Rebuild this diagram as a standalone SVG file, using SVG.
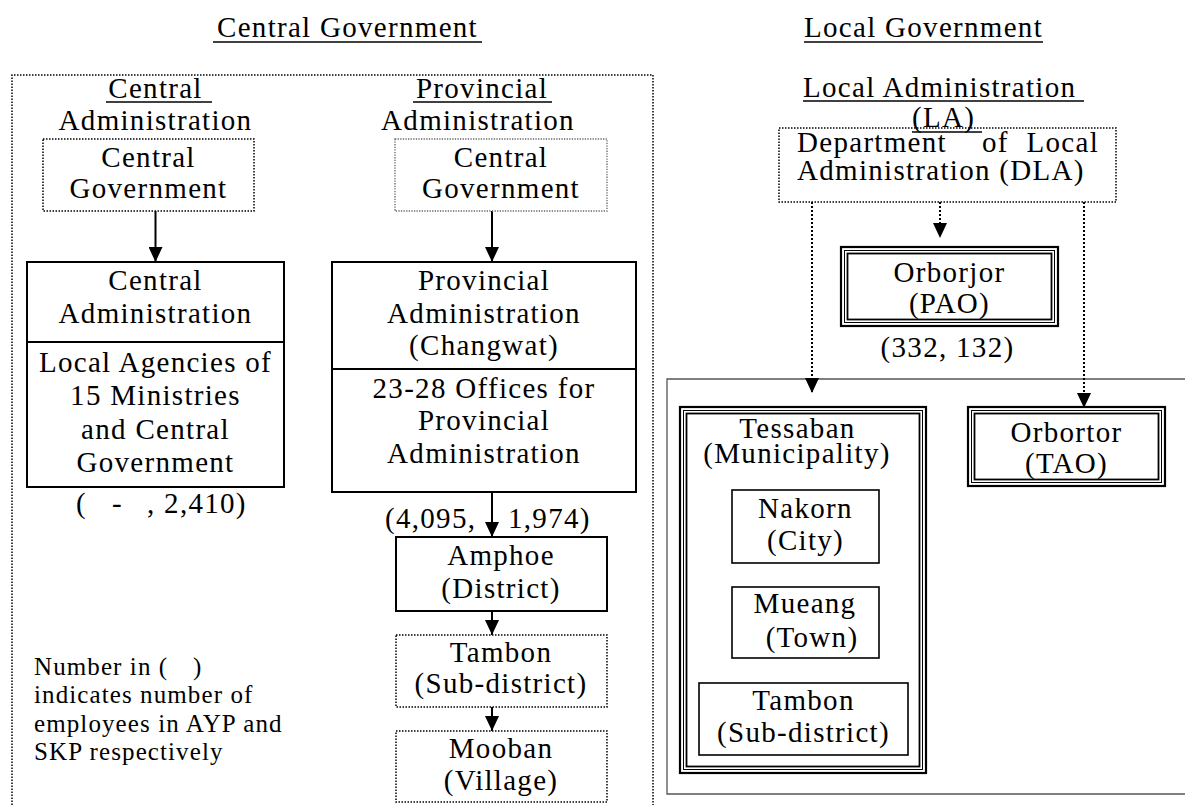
<svg xmlns="http://www.w3.org/2000/svg" width="1185" height="805" viewBox="0 0 1185 805" font-family="'Liberation Serif', 'Times New Roman', serif" font-size="29" letter-spacing="1.3">
  <style>
    text { fill: #000; }
    .c { text-anchor: middle; }
    .e { text-anchor: end; }
    .sm { font-size: 25px; letter-spacing: 1.1px; }
    .ul { stroke: #000; stroke-width: 1.6; }
    .box { fill: #fff; stroke: #000; stroke-width: 2; }
    .dot { fill: #fff; stroke: #000; stroke-width: 1.5; stroke-dasharray: 1.5 1.5; }
    .dotg { fill: #fff; stroke: #666; stroke-width: 1.3; stroke-dasharray: 1.3 1.3; }
    .frame { fill: none; stroke: #000; stroke-width: 1.5; stroke-dasharray: 1.5 1.5; }
    .panel { fill: none; stroke: #555; stroke-width: 1.3; }
    .thin { fill: #fff; stroke: #000; stroke-width: 1.6; }
    .tri-o { fill: #fff; stroke: #000; stroke-width: 2.2; }
    .tri-m { fill: none; stroke: #000; stroke-width: 1; }
    .tri-i { fill: none; stroke: #000; stroke-width: 1.8; }
    .arr { stroke: #000; stroke-width: 2; fill: none; marker-end: url(#head); }
    .arrd { stroke: #000; stroke-width: 2; fill: none; stroke-dasharray: 2 2; marker-end: url(#head); }
  </style>
  <defs>
    <marker id="head" viewBox="0 0 15 14" refX="15" refY="7" markerWidth="15" markerHeight="14" markerUnits="userSpaceOnUse" orient="auto">
      <path d="M0,0 L15,7 L0,14 z" fill="#000"/>
    </marker>
  </defs>

  <rect width="1185" height="805" fill="#fff"/>

  <!-- section titles -->
  <g id="title-central">
    <text class="c" x="347.5" y="37">Central Government</text>
    <line class="ul" x1="213" y1="42" x2="482" y2="42"/>
  </g>
  <g id="title-local">
    <text class="c" x="923.5" y="37">Local Government</text>
    <line class="ul" x1="804" y1="42" x2="1043" y2="42"/>
  </g>

  <!-- dotted frame around the central government side -->
  <path id="central-frame" class="frame" d="M12,805 V75 H653 V805"/>

  <!-- right-hand panel for local bodies -->
  <path id="local-panel" class="panel" d="M1190,379 H667 V794 H1190"/>

  <!-- column headers -->
  <g id="hdr-central-admin">
    <text class="c" x="155.5" y="98">Central</text>
    <line class="ul" x1="106" y1="102" x2="212" y2="102"/>
    <text class="c" x="155.5" y="130">Administration</text>
  </g>
  <g id="hdr-provincial-admin">
    <text class="c" x="482" y="98">Provincial</text>
    <line class="ul" x1="413" y1="102" x2="552" y2="102"/>
    <text class="c" x="478" y="130">Administration</text>
  </g>
  <g id="hdr-local-admin">
    <text x="803" y="97">Local Administration</text>
    <line class="ul" x1="803" y1="101" x2="1084" y2="101"/>
  </g>

  <!-- connectors -->
  <g id="connectors">
    <line class="arr" x1="155.5" y1="211" x2="155.5" y2="262"/>
    <line class="arr" x1="492" y1="211" x2="492" y2="262"/>
    <line class="arr" x1="492" y1="492" x2="492" y2="537"/>
    <line class="arr" x1="492" y1="611" x2="492" y2="635"/>
    <line class="arr" x1="492" y1="707" x2="492" y2="731"/>
    <line class="arrd" x1="812" y1="202" x2="812" y2="393"/>
    <line class="arrd" x1="940" y1="202" x2="940" y2="238"/>
    <line class="arrd" x1="1084" y1="202" x2="1084" y2="408"/>
  </g>

  <!-- central administration column -->
  <g id="cg-left">
    <rect class="dot" x="43" y="139" width="211" height="72"/>
    <text class="c" x="148.5" y="167">Central</text>
    <text class="c" x="148.5" y="198">Government</text>
  </g>
  <g id="central-admin">
    <rect class="box" x="27" y="262" width="257" height="225"/>
    <line stroke="#000" stroke-width="2" x1="27" y1="342" x2="284" y2="342"/>
    <text class="c" x="155.5" y="290">Central</text>
    <text class="c" x="155.5" y="323">Administration</text>
    <text class="c" x="155.5" y="372">Local Agencies of</text>
    <text class="c" x="155.5" y="405">15 Ministries</text>
    <text class="c" x="155.5" y="439">and Central</text>
    <text class="c" x="155.5" y="472">Government</text>
  </g>
  <g id="central-admin-count">
    <text x="76" y="513">(</text>
    <text x="112" y="513">-</text>
    <text x="147" y="513">, 2,410)</text>
  </g>

  <!-- note -->
  <g id="note">
    <text class="sm" x="34" y="675">Number in (</text>
    <text class="sm" x="193" y="675">)</text>
    <text class="sm" x="34" y="703">indicates number of</text>
    <text class="sm" x="34" y="732">employees in AYP and</text>
    <text class="sm" x="34" y="760">SKP respectively</text>
  </g>

  <!-- provincial administration column -->
  <g id="cg-right">
    <rect class="dotg" x="395" y="139" width="212" height="72"/>
    <text class="c" x="501" y="167">Central</text>
    <text class="c" x="501" y="198">Government</text>
  </g>
  <g id="provincial-admin">
    <rect class="box" x="332" y="262" width="304" height="230"/>
    <line stroke="#000" stroke-width="2" x1="332" y1="369" x2="636" y2="369"/>
    <text class="c" x="484" y="290">Provincial</text>
    <text class="c" x="484" y="323">Administration</text>
    <text class="c" x="484" y="355">(Changwat)</text>
    <text class="c" x="484" y="398">23-28 Offices for</text>
    <text class="c" x="484" y="430">Provincial</text>
    <text class="c" x="484" y="463">Administration</text>
  </g>
  <g id="provincial-count">
    <text x="385" y="528">(4,095,</text>
    <text x="508" y="528">1,974)</text>
  </g>
  <g id="amphoe">
    <rect class="box" x="396" y="537" width="211" height="74"/>
    <text class="c" x="501" y="565">Amphoe</text>
    <text class="c" x="501" y="598">(District)</text>
  </g>
  <g id="tambon-prov">
    <rect class="dot" x="396" y="635" width="211" height="72"/>
    <text class="c" x="501" y="662">Tambon</text>
    <text class="c" x="501" y="693">(Sub-district)</text>
  </g>
  <g id="mooban">
    <rect class="dot" x="396" y="731" width="211" height="71"/>
    <text class="c" x="501" y="758">Mooban</text>
    <text class="c" x="501" y="790">(Village)</text>
  </g>

  <!-- local administration -->
  <g id="dla">
    <rect class="dot" x="779" y="128" width="337" height="74"/>
    <text x="797" y="152">Department</text>
    <text x="982" y="152">of</text>
    <text class="e" x="1099" y="152">Local</text>
    <text x="797" y="180">Administration (DLA)</text>
  </g>
  <g id="hdr-la">
    <text x="912" y="127">(LA)</text>
    <line class="ul" x1="912" y1="132" x2="982" y2="132"/>
  </g>
  <g id="orborjor">
    <rect class="tri-o" x="841" y="247" width="217" height="79"/>
    <rect class="tri-m" x="844.5" y="250.5" width="210" height="72"/>
    <rect class="tri-i" x="847.5" y="253.5" width="204" height="66"/>
    <text class="c" x="949.5" y="282">Orborjor</text>
    <text class="c" x="949.5" y="313">(PAO)</text>
  </g>
  <g id="orborjor-count">
    <text class="c" x="947.5" y="357">(332, 132)</text>
  </g>
  <g id="tessaban">
    <rect class="tri-o" x="680" y="407" width="246" height="366"/>
    <rect class="tri-m" x="683.5" y="410.5" width="239" height="359"/>
    <rect class="tri-i" x="686.5" y="413.5" width="233" height="353"/>
    <text class="c" x="797.5" y="438">Tessaban</text>
    <text class="c" x="797" y="463">(Municipality)</text>
  </g>
  <g id="nakorn">
    <rect class="thin" x="732" y="490" width="147" height="73"/>
    <text class="c" x="805.5" y="518">Nakorn</text>
    <text class="c" x="805.5" y="550">(City)</text>
  </g>
  <g id="mueang">
    <rect class="thin" x="732" y="587" width="147" height="71"/>
    <text class="c" x="805" y="613">Mueang</text>
    <text class="c" x="812" y="647">(Town)</text>
  </g>
  <g id="tambon-local">
    <rect class="thin" x="699" y="683" width="209" height="72"/>
    <text class="c" x="803.5" y="710">Tambon</text>
    <text class="c" x="803.5" y="742">(Sub-district)</text>
  </g>
  <g id="orbortor">
    <rect class="tri-o" x="968" y="407" width="197" height="79"/>
    <rect class="tri-m" x="971.5" y="410.5" width="190" height="72"/>
    <rect class="tri-i" x="974.5" y="413.5" width="184" height="66"/>
    <text class="c" x="1066.5" y="442">Orbortor</text>
    <text class="c" x="1066.5" y="473">(TAO)</text>
  </g>
</svg>
